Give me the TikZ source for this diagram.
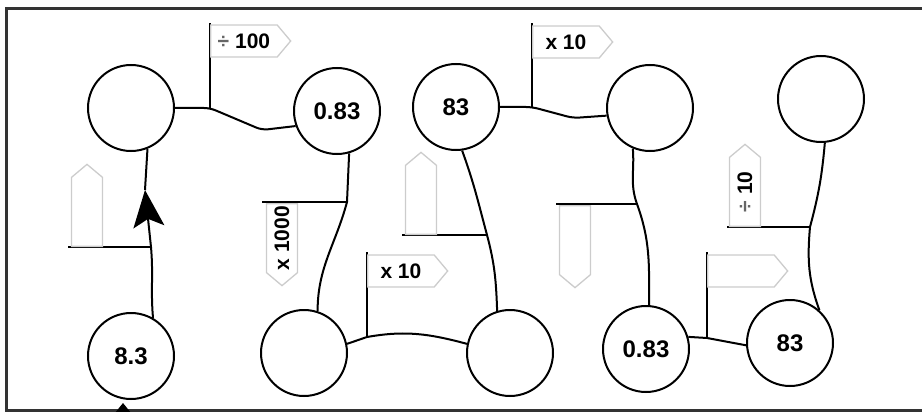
\documentclass[tikz,border=0pt]{standalone}
\usepackage{fontspec}
\setsansfont{Liberation Sans}
\usetikzlibrary{shapes.symbols,arrows.meta}
\definecolor{flaggrey}{gray}{0.8}
\begin{document}
\begin{tikzpicture}
  [
    x=1pt, y=-1pt,
    line width=2pt,
    num/.style={circle, draw, line width=2pt, minimum size=86pt, inner sep=0pt, font=\sffamily\bfseries\fontsize{24}{24}\selectfont},
    flag/.style={signal, signal to=east, signal pointer angle=100, draw=flaggrey, line width=1.3pt, fill=white, minimum height=32pt, minimum width=80pt, inner sep=0pt, font=\sffamily\bfseries\fontsize{21}{21}\selectfont},
    upflag/.style={flag, rotate=90, minimum height=31pt, minimum width=82pt, anchor=west},
    downflag/.style={upflag, signal to=west, anchor=east},
    pole/.style={line width=1.6pt},
  ]
  \useasboundingbox (0,0) rectangle (922,412);

  % circles
  \node [num] (c1) at (131,108) {};
  \node [num] (c2) at (337,111) {0.83};
  \node [num] (c3) at (456,107) {83};
  \node [num] (c4) at (650,108) {};
  \node [num] (c5) at (821,99) {};
  \node [num] (c6) at (131,356) {8.3};
  \node [num] (c7) at (304,353) {};
  \node [num] (c8) at (510,353) {};
  \node [num] (c9) at (646,349) {0.83};
  \node [num] (c10) at (790,343) {83};

  % junctions on the connectors
  \coordinate (j1) at (210,108);
  \coordinate (j2) at (151,247);
  \coordinate (j3) at (347,202);
  \coordinate (j4) at (367,337);
  \coordinate (j5) at (487,235);
  \coordinate (j6) at (532,107);
  \coordinate (j7) at (637,204);
  \coordinate (j8) at (707,338);
  \coordinate (j9) at (810,227);
  \coordinate (tipA) at (145,190);
  \coordinate (tipB) at (123,403);
  \coordinate (tailB) at (123,440);

  % connectors
  \draw [rounded corners=6pt] (c1.east) -- (j1) -- (262,130) -- (c2.200);
  \draw (c6.60) to[out=95,in=-85] (j2);
  \draw [-{Stealth[length=37pt,width=31pt,inset=8pt]}] (j2) -- (tipA);
  \draw (tipA) -- (c1.-68);
  \draw (c2.-74) -- (j3) to[out=-105,in=90] (c7.72);
  \draw (c7.12) -- (j4) to[out=10,in=165] (c8.168);
  \draw (c3.-82) to[out=-70,in=105] (j5) to[out=-75,in=92] (c8.107);
  \draw [rounded corners=6pt] (c3.east) -- (j6) -- (573,118) -- (c4.190);
  \draw (c4.-113) to[out=-85,in=110] (j7) to[out=-70,in=90] (c9.86);
  \draw (c9.16) -- (j8) -- (c10.183);
  \draw (c5.-85) to[out=-95,in=75] (j9) to[out=-95,in=110] (c10.48);

  % flags
  \draw [pole] (j1) -- ++(0,-85);
  \node [flag, anchor=west] (f1) at (210,41) {\textcolor{black!60}{÷} 100};
  \draw (j2) -- ++(-83,0);
  \node [upflag] (f2) at (87,247) {};
  \draw (j3) -- ++(-85,0);
  \node [downflag] (f3) at (282,203) {x 1000};
  \draw [pole] (j4) -- ++(0,-85);
  \node [flag, anchor=west] (f4) at (367,271) {x 10};
  \draw (j5) -- ++(-85,0);
  \node [upflag] (f5) at (421,235) {};
  \draw [pole] (j6) -- ++(0,-84);
  \node [flag, anchor=west] (f6) at (532,42) {x 10};
  \draw (j7) -- ++(-81,0);
  \node [downflag] (f7) at (575,205) {};
  \draw [pole] (j8) -- ++(0,-86);
  \node [flag, anchor=west] (f8) at (707,271) {};
  \draw (j9) -- ++(-83,0);
  \node [upflag] (f9) at (745,227) {\textcolor{black!60}{÷} 10};

  % frame
  \draw [line width=3pt, black!80] (922,9) -- (6,9) -- (6,410) -- (922,410);
  \draw [-{Stealth[length=20pt,width=32pt]}] (tailB) -- (tipB);
\end{tikzpicture}
\end{document}
